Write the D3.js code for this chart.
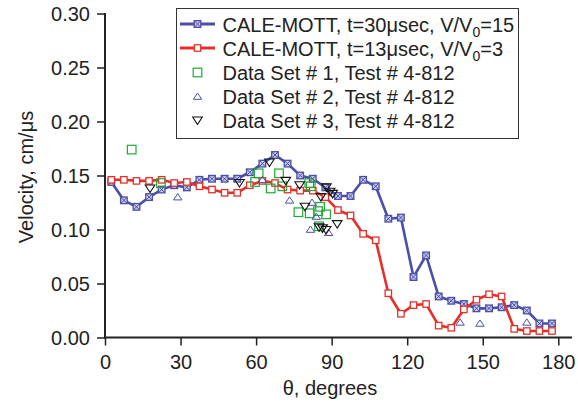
<!DOCTYPE html>
<html>
<head>
<meta charset="utf-8">
<style>
  body { margin: 0; background: #fff; }
  svg { font-family: "Liberation Sans", Arial, sans-serif; }
</style>
</head>
<body>
<svg width="578" height="406"></svg>
<script src="https://d3js.org/d3.v7.min.js"></script>
<script>

  // CALE-MOTT runs (angle in degrees, velocity in cm/us)
  var caleAngles = [2.5, 7.5, 12.5, 17.5, 22.5, 27.5, 32.5, 37.5, 42.5, 47.5, 52.5, 57.5,
                    62.5, 67.5, 72.5, 77.5, 82.5, 87.5, 92.5, 97.5, 102.5, 107.5, 112.5, 117.5,
                    122.5, 127.5, 132.5, 137.5, 142.5, 147.5, 152.5, 157.5, 162.5, 167.5, 172.5, 177.5];
  var cale30 = [0.144, 0.127, 0.121, 0.130, 0.137, 0.141, 0.139, 0.146, 0.147, 0.147, 0.147, 0.153,
                0.161, 0.169, 0.161, 0.150, 0.147, 0.139, 0.131, 0.131, 0.146, 0.140, 0.110, 0.111,
                0.056, 0.076, 0.038, 0.034, 0.031, 0.027, 0.027, 0.028, 0.030, 0.025, 0.013, 0.013];
  var cale13 = [0.146, 0.146, 0.145, 0.145, 0.146, 0.143, 0.144, 0.140, 0.137, 0.134, 0.134, 0.141,
                0.145, 0.143, 0.137, 0.136, 0.136, 0.130, 0.118, 0.113, 0.096, 0.090, 0.041, 0.022,
                0.030, 0.031, 0.011, 0.009, 0.026, 0.035, 0.040, 0.038, 0.008, 0.006, 0.006, 0.006];

  // test data, [angle, velocity]
  var dataSet1 = [[10.6, 0.174], [22.2, 0.143], [59.6, 0.144], [61.0, 0.152], [65.8, 0.138],
                  [69.1, 0.152], [70.4, 0.140], [76.8, 0.116], [81.3, 0.115], [81.1, 0.143],
                  [81.7, 0.140], [85.4, 0.121], [84.6, 0.117], [87.8, 0.114], [85.0, 0.103]];
  var dataSet2 = [[28.9, 0.130], [62.5, 0.146], [73.3, 0.127], [82.2, 0.125], [83.9, 0.112],
                  [81.6, 0.100], [88.8, 0.097], [141.0, 0.014], [148.9, 0.013], [167.5, 0.014]];
  var dataSet3 = [[17.9, 0.138], [53.4, 0.143], [65.3, 0.162], [71.8, 0.145], [77.3, 0.141],
                  [79.4, 0.121], [85.7, 0.130], [87.9, 0.139], [89.4, 0.135], [90.4, 0.133],
                  [92.2, 0.105], [85.0, 0.102], [86.4, 0.101], [87.8, 0.0995]];

  var xTicks = [0, 30, 60, 90, 120, 150, 180];
  var yTicks = [0, 0.05, 0.10, 0.15, 0.20, 0.25, 0.30];

  var legendLabels = ["CALE-MOTT, t=30\u03bcsec, V/V", "CALE-MOTT, t=13\u03bcsec, V/V",
                      "Data Set # 1, Test # 4-812", "Data Set # 2, Test # 4-812", "Data Set # 3, Test # 4-812"];

  var blue = "#4b4fa6", red = "#e5302a", green = "#22a838", ink = "#222";

  var svg = d3.select("svg");

  var x = d3.scaleLinear().domain([0, 180]).range([105, 558.3]),
      y = d3.scaleLinear().domain([0, 0.30]).range([337.5, 13.5]);

  // axes
  var gx = svg.append("g").attr("transform", "translate(0," + y(0) + ")")
      .call(d3.axisBottom(x).tickValues(xTicks).tickSize(8).tickPadding(5).tickFormat(d3.format("d")));
  var gy = svg.append("g").attr("transform", "translate(" + x(0) + ",0)")
      .call(d3.axisLeft(y).tickValues(yTicks).tickSize(8).tickPadding(7).tickFormat(d3.format(".2f")));

  [gx, gy].forEach(function(g) {
    g.select(".domain").remove();
    g.selectAll(".tick line").attr("stroke", ink).attr("stroke-width", 1.5);
    g.selectAll(".tick text").attr("fill", ink).style("font-size", "20px").style("font-family", "Liberation Sans, Arial, sans-serif");
  });
  gx.selectAll(".tick text").attr("dy", "0.9em");
  gy.selectAll(".tick text").attr("dy", "0.36em");

  svg.append("line").attr("x1", x(0) - 1).attr("x2", 572).attr("y1", y(0)).attr("y2", y(0))
      .attr("stroke", ink).attr("stroke-width", 2);
  svg.append("line").attr("x1", x(0)).attr("x2", x(0)).attr("y1", 13).attr("y2", y(0) + 1)
      .attr("stroke", ink).attr("stroke-width", 2);

  svg.append("text").attr("x", 330).attr("y", 395).attr("text-anchor", "middle")
      .attr("fill", ink).style("font-size", "20px").text("\u03b8, degrees");
  svg.append("text").attr("transform", "translate(33,177) rotate(-90)").attr("text-anchor", "middle")
      .attr("fill", ink).style("font-size", "20px").text("Velocity, cm/\u03bcs");

  // markers
  function blueMark(g, cx, cy) {
    var s = 3.3;
    g.append("rect").attr("x", cx - s).attr("y", cy - s).attr("width", 2 * s).attr("height", 2 * s)
        .attr("fill", "#c9cbe8").attr("stroke", blue).attr("stroke-width", 1.3);
    g.append("path").attr("d", "M" + (cx - s) + "," + (cy - s) + "L" + (cx + s) + "," + (cy + s) +
        "M" + (cx + s) + "," + (cy - s) + "L" + (cx - s) + "," + (cy + s))
        .attr("stroke", blue).attr("stroke-width", 1);
  }
  function redMark(g, cx, cy) {
    g.append("rect").attr("x", cx - 3.2).attr("y", cy - 3.2).attr("width", 6.4).attr("height", 6.4)
        .attr("fill", "#fff").attr("stroke", red).attr("stroke-width", 1.3);
  }
  function greenMark(g, cx, cy) {
    g.append("rect").attr("x", cx - 4.3).attr("y", cy - 4.3).attr("width", 8.6).attr("height", 8.6)
        .attr("fill", "none").attr("stroke", green).attr("stroke-width", 1.2);
  }
  function upTri(g, cx, cy) {
    g.append("path").attr("d", "M" + cx + "," + (cy - 3.5) + "L" + (cx + 4.2) + "," + (cy + 2.8) +
        "L" + (cx - 4.2) + "," + (cy + 2.8) + "Z")
        .attr("fill", "none").attr("stroke", blue).attr("stroke-width", 1);
  }
  function downTri(g, cx, cy) {
    g.append("path").attr("d", "M" + cx + "," + (cy + 4) + "L" + (cx + 4.8) + "," + (cy - 3.5) +
        "L" + (cx - 4.8) + "," + (cy - 3.5) + "Z")
        .attr("fill", "none").attr("stroke", "#111").attr("stroke-width", 1.1);
  }

  var line = d3.line().x(function(d) { return x(d[0]); }).y(function(d) { return y(d[1]); });
  var blueData = caleAngles.map(function(a, i) { return [a, cale30[i]]; });
  var redData = caleAngles.map(function(a, i) { return [a, cale13[i]]; });

  var plot = svg.append("g");
  plot.append("path").datum(blueData).attr("d", line).attr("fill", "none")
      .attr("stroke", blue).attr("stroke-width", 2.6).attr("stroke-linejoin", "round");
  var gb = plot.append("g");
  blueData.forEach(function(d) { blueMark(gb, x(d[0]), y(d[1])); });

  plot.append("path").datum(redData).attr("d", line).attr("fill", "none")
      .attr("stroke", red).attr("stroke-width", 2.6).attr("stroke-linejoin", "round");
  var gr = plot.append("g");
  redData.forEach(function(d) { redMark(gr, x(d[0]), y(d[1])); });

  var g1 = plot.append("g"), g2 = plot.append("g"), g3 = plot.append("g");
  dataSet1.forEach(function(d) { greenMark(g1, x(d[0]), y(d[1])); });
  dataSet2.forEach(function(d) { upTri(g2, x(d[0]), y(d[1])); });
  dataSet3.forEach(function(d) { downTri(g3, x(d[0]), y(d[1])); });

  // legend
  var lg = svg.append("g");
  lg.append("rect").attr("x", 176.5).attr("y", 8.5).attr("width", 342).attr("height", 130)
      .attr("fill", "#fff").attr("stroke", "#333").attr("stroke-width", 1);
  var rowY = [24, 48, 72.5, 96.5, 120.5];
  lg.append("line").attr("x1", 180).attr("x2", 215).attr("y1", rowY[0]).attr("y2", rowY[0])
      .attr("stroke", blue).attr("stroke-width", 3);
  blueMark(lg, 197.5, rowY[0]);
  lg.append("line").attr("x1", 180).attr("x2", 215).attr("y1", rowY[1]).attr("y2", rowY[1])
      .attr("stroke", red).attr("stroke-width", 3);
  redMark(lg, 197.5, rowY[1]);
  greenMark(lg, 197.5, rowY[2]);
  upTri(lg, 197.5, rowY[3]);
  downTri(lg, 197.5, rowY[4]);

  var subs = ["15", "3"];
  legendLabels.forEach(function(t, i) {
    var tx = lg.append("text").attr("x", 222.5).attr("y", rowY[i] + 7.5)
        .attr("fill", ink).style("font-size", "20px").text(t);
    if (i < 2) {
      tx.append("tspan").attr("dy", 5).style("font-size", "14px").text("0");
      tx.append("tspan").attr("dy", -5).text("=" + subs[i]);
    }
  });

</script>
</body>
</html>
